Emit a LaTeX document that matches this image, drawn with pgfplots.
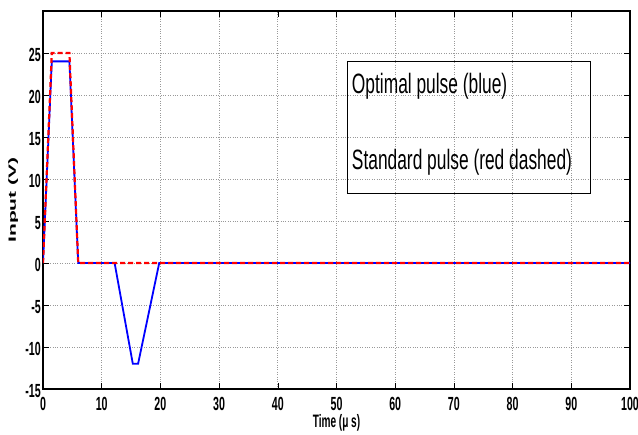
\documentclass[border=0pt]{standalone}
\usepackage{fontspec}
\usepackage{graphicx}
\usepackage{pgfplots}
\pgfplotsset{compat=1.18}
\setmainfont{Liberation Sans}
\newfontfamily\tickfont[FakeStretch=0.56]{Liberation Sans Bold}
\newfontfamily\boxfont[FakeStretch=0.62]{Liberation Sans}
\newfontfamily\labfont{Liberation Sans Bold}
\begin{document}
\begin{tikzpicture}
\begin{axis}[
  scale only axis,
  width=587pt, height=378pt,
  xmin=0, xmax=100, ymin=-15, ymax=30,
  xtick={0,10,...,100},
  ytick={-15,-10,...,25},
  tick align=inside,
  major tick length=6pt,
  tick style={black, line width=0.6pt},
  axis line style={black, line width=1.4pt},
  grid=major,
  grid style={dotted, gray!80, line width=0.7pt},
  /pgf/number format/assume math mode=true,
  ticklabel style={font=\tickfont\fontsize{19}{19}\selectfont, inner sep=1pt},
  xticklabel style={yshift=-7pt},
  yticklabel style={xshift=-1pt, yshift=-2pt},
  xlabel={Time (μ s)},
  xlabel style={font=\tickfont\fontsize{18}{18}\selectfont, at={(axis description cs:0.5,0)}, anchor=north, inner sep=0pt, yshift=-25pt},
  ylabel={\scalebox{1}[0.5]{Input (V)}},
  ylabel style={font=\labfont\fontsize{21}{21}\selectfont, at={(axis description cs:-0.042,0.5)}, anchor=south, inner sep=0pt},
]
\addplot[blue, line width=1.8pt] coordinates {
  (0,0) (1.5,24) (4.5,24) (6,0) (12.2,0) (15.3,-12) (16.2,-12) (19.8,0) (100,0)
};
\addplot[red, line width=2.2pt, dash pattern=on 5pt off 3pt] coordinates {
  (0,0) (1.5,25) (4.5,25) (6,0) (100,0)
};
\draw[black, line width=0.8pt] (axis cs:51.9,24.0) rectangle (axis cs:93.3,8.3);
\node[anchor=west, inner sep=0pt, font=\boxfont\fontsize{28}{28}\selectfont] at (axis cs:52.6,21.0) {Optimal pulse (blue)};
\node[anchor=west, inner sep=0pt, font=\boxfont\fontsize{28}{28}\selectfont] at (axis cs:52.6,12.0) {Standard pulse (red dashed)};
\end{axis}
\pgfresetboundingbox
\path (current axis.south west) ++(-43pt,-46pt) coordinate (bl);
\path (current axis.north east) ++(8pt,11pt) coordinate (tr);
\path[use as bounding box] (bl) rectangle (tr);
\end{tikzpicture}
\end{document}
